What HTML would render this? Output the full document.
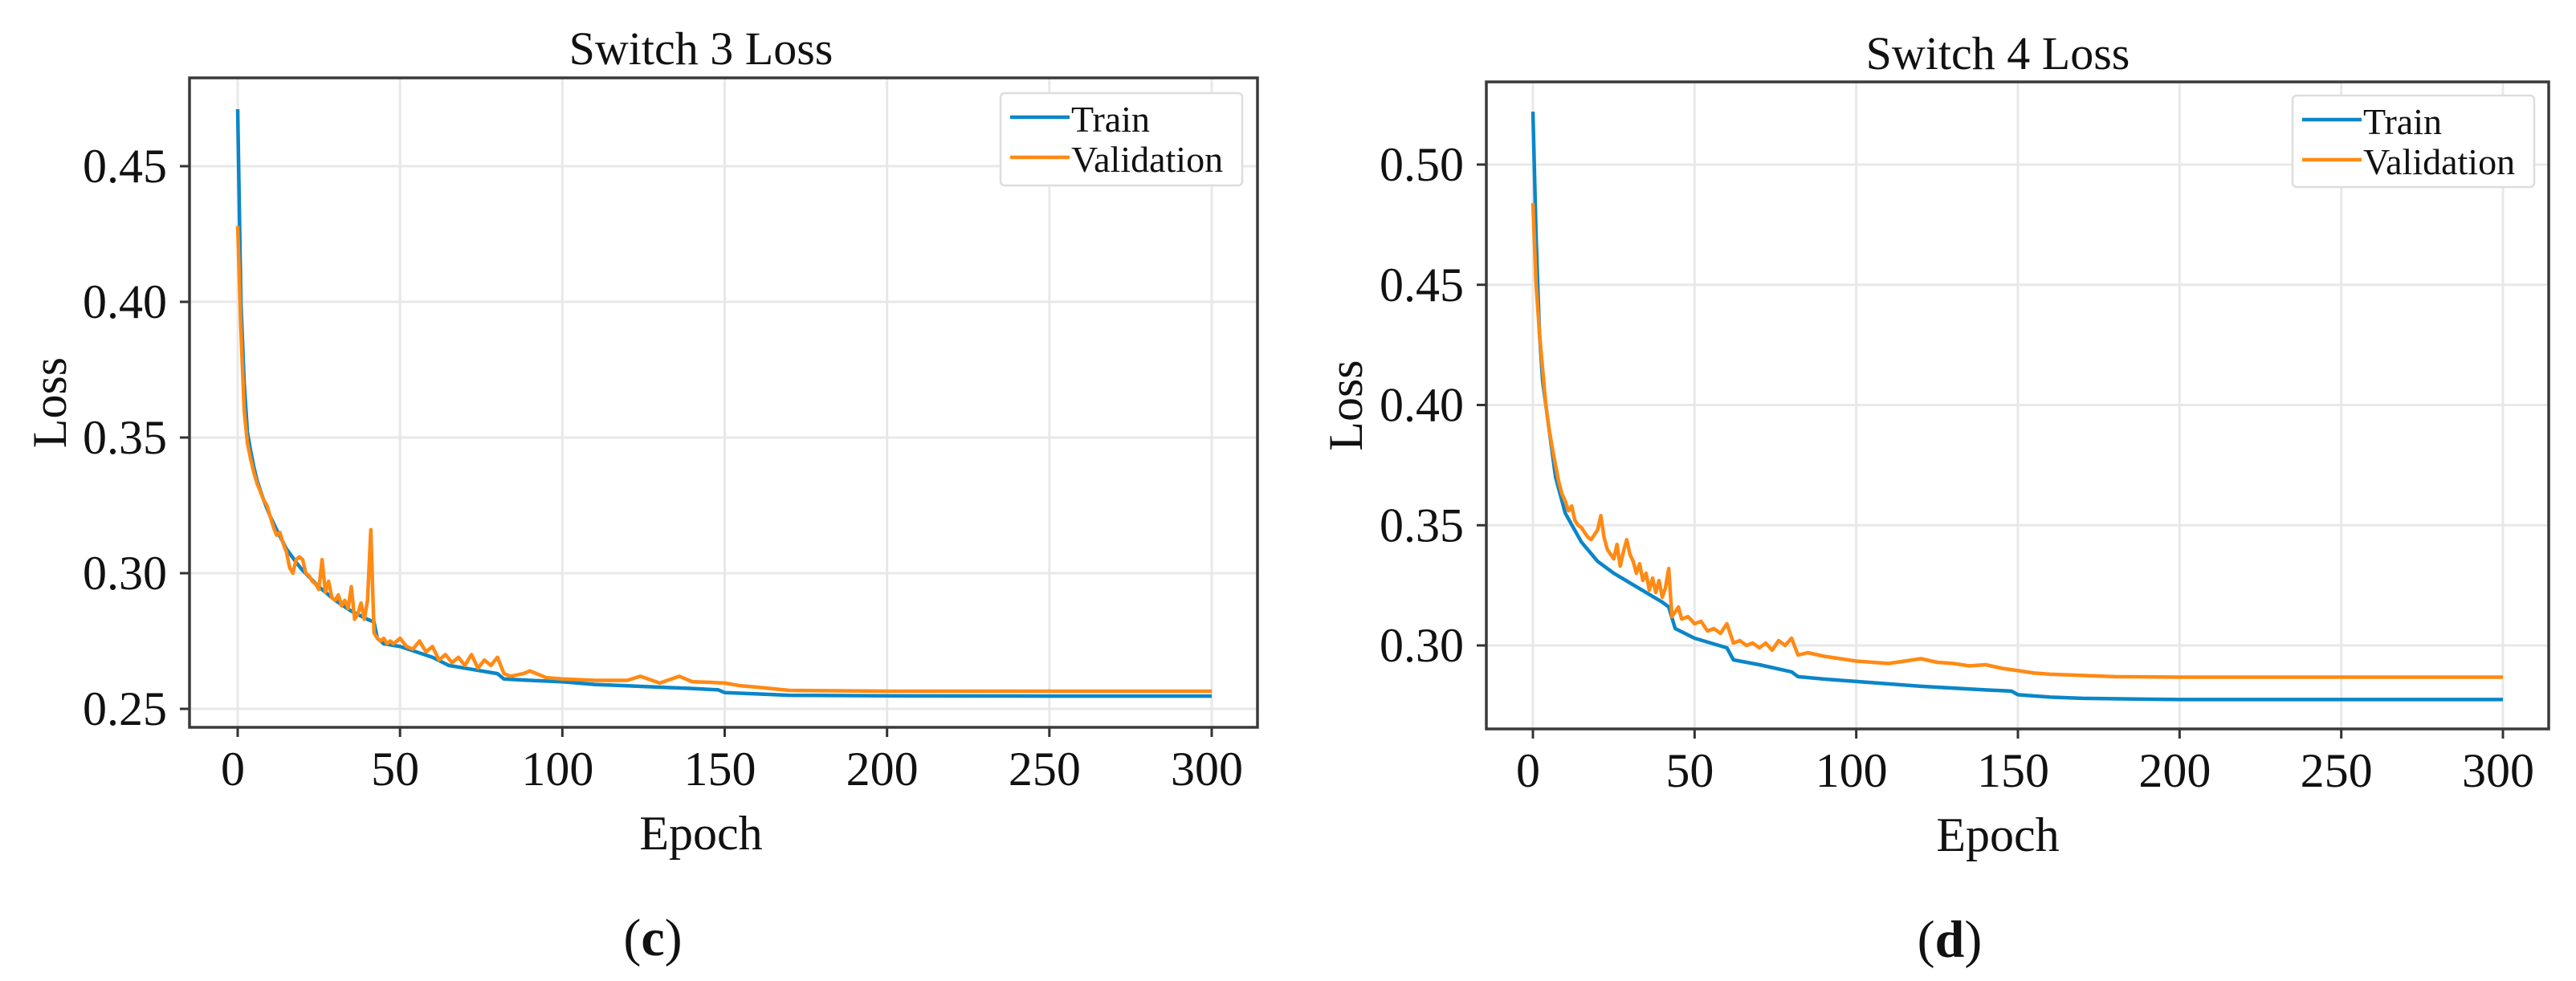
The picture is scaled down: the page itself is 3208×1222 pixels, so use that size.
<!DOCTYPE html>
<html><head><meta charset="utf-8"><style>
body{margin:0;background:#fff;}
svg{display:block;font-family:"Liberation Serif",serif;}
</style></head><body>
<svg id="fig" width="3208" height="1222" viewBox="0 0 3208 1222" xmlns="http://www.w3.org/2000/svg"></svg>
<script>
// ---- Switch 3 data ----
const s3TrainEpochs=[0,1,2,3,4,5,6,8,10,12,15,18,20,25,30,35,40,42,43,45,50,55,60,65,70,80,82,90,100,110,120,130,140,148,150,160,170,200,250,300];
const s3TrainValues=[0.471,0.40,0.37,0.352,0.345,0.339,0.334,0.327,0.321,0.316,0.309,0.304,0.301,0.295,0.290,0.286,0.283,0.282,0.276,0.274,0.273,0.271,0.269,0.266,0.265,0.263,0.261,0.2605,0.260,0.259,0.2585,0.258,0.2575,0.257,0.256,0.2555,0.255,0.2548,0.2547,0.2547];
const s3ValEpochs=[0,1,2,3,4,5,6,7,8,9,10,11,12,13,14,15,16,17,18,19,20,21,22,23,24,25,26,27,28,29,30,31,32,33,34,35,36,37,38,39,40,41,42,43,44,45,46,47,48,50,52,54,56,58,60,62,64,66,68,70,72,74,76,78,80,82,84,88,90,95,100,110,120,124,130,136,140,145,150,155,160,170,200,250,300];
const s3ValValues=[0.428,0.39,0.36,0.348,0.342,0.337,0.333,0.330,0.327,0.325,0.321,0.317,0.314,0.315,0.311,0.308,0.302,0.300,0.305,0.306,0.305,0.300,0.299,0.297,0.296,0.294,0.305,0.293,0.297,0.291,0.290,0.292,0.288,0.290,0.287,0.295,0.283,0.285,0.289,0.283,0.290,0.316,0.278,0.276,0.275,0.276,0.274,0.275,0.274,0.276,0.273,0.272,0.275,0.271,0.273,0.268,0.270,0.267,0.269,0.266,0.270,0.265,0.268,0.266,0.269,0.263,0.262,0.263,0.264,0.2615,0.261,0.2605,0.2605,0.262,0.2595,0.262,0.260,0.2598,0.2595,0.2585,0.258,0.2568,0.2565,0.2565,0.2565];
const s3YTicks=[0.25,0.30,0.35,0.40,0.45];
// ---- Switch 4 data ----
const s4TrainEpochs=[0,1,2,3,5,7,10,15,20,25,30,35,40,42,44,50,55,60,62,70,80,82,90,100,120,140,148,150,160,170,200,250,300];
const s4TrainValues=[0.522,0.47,0.43,0.41,0.39,0.37,0.355,0.343,0.335,0.330,0.326,0.322,0.318,0.316,0.307,0.303,0.301,0.299,0.294,0.292,0.289,0.287,0.286,0.285,0.283,0.2815,0.281,0.2795,0.2785,0.278,0.2775,0.2775,0.2775];
const s4ValEpochs=[0,1,2,3,4,5,6,7,8,9,10,11,12,13,14,15,16,17,18,19,20,21,22,23,24,25,26,27,28,29,30,31,32,33,34,35,36,37,38,39,40,41,42,43,44,45,46,48,50,52,54,56,58,60,62,64,66,68,70,72,74,76,78,80,82,85,90,95,100,105,110,115,120,125,130,135,140,145,150,155,160,170,180,200,250,300];
const s4ValValues=[0.484,0.45,0.43,0.415,0.40,0.39,0.382,0.375,0.368,0.363,0.36,0.356,0.358,0.352,0.350,0.349,0.347,0.345,0.344,0.346,0.348,0.354,0.345,0.340,0.338,0.336,0.342,0.333,0.339,0.344,0.338,0.335,0.330,0.334,0.327,0.330,0.323,0.328,0.322,0.327,0.320,0.324,0.332,0.312,0.314,0.316,0.311,0.312,0.309,0.310,0.306,0.307,0.305,0.309,0.301,0.302,0.300,0.301,0.299,0.301,0.298,0.302,0.300,0.303,0.296,0.297,0.2955,0.2945,0.2935,0.293,0.2925,0.2935,0.2945,0.293,0.2925,0.2915,0.292,0.2905,0.2895,0.2885,0.288,0.2875,0.287,0.2868,0.2868,0.2868];
const s4YTicks=[0.30,0.35,0.40,0.45,0.50];
const xTicks=[0,50,100,150,200,250,300];

const NS="http://www.w3.org/2000/svg";
const fig=document.getElementById('fig');
function el(tag,attrs,parent,text){const e=document.createElementNS(NS,tag);for(const k in attrs)e.setAttribute(k,attrs[k]);if(text!==undefined)e.textContent=text;(parent||fig).appendChild(e);return e;}

function chart(cfg){
  const g=el('g',{});
  
  
  const X=v=>cfg.x0+(v-0)/(300-0)*(cfg.x300-cfg.x0);
  const Y=v=>cfg.yA+(v-cfg.vA)/(cfg.vB-cfg.vA)*(cfg.yB-cfg.yA);
  cfg.yTicks.forEach(t=>{
    const l=el('line',{x1:cfg.L,x2:cfg.R,y1:Y(t),y2:Y(t),stroke:'#e8e8e8','stroke-width':3},g);
    
    const tk=el('line',{x1:cfg.L-12,x2:cfg.L,y1:Y(t),y2:Y(t),stroke:'#333','stroke-width':3},g);
    
    const tx=el('text',{x:cfg.L-28,y:Y(t)+20,'text-anchor':'end','font-size':60,fill:'#111'},g,t.toFixed(2));
    
  });
  xTicks.forEach(t=>{
    const l=el('line',{x1:X(t),x2:X(t),y1:cfg.T,y2:cfg.B,stroke:'#e8e8e8','stroke-width':3},g);
    
    const tk=el('line',{x1:X(t),x2:X(t),y1:cfg.B,y2:cfg.B+12,stroke:'#333','stroke-width':3},g);
    
    const tx=el('text',{x:X(t)-6,y:cfg.B+72,'text-anchor':'middle','font-size':60,fill:'#111'},g,String(t));
    
  });
  const mk=(ep,vals,color,name)=>{
    const d=ep.map((e,i)=>(i?'L':'M')+X(e).toFixed(1)+' '+Y(vals[i]).toFixed(1)).join(' ');
    const p=el('path',{d:d,fill:'none',stroke:color,'stroke-width':4.5,'stroke-linejoin':'round'},g);
    
  };
  mk(cfg.trE,cfg.trV,'#0b86c8','train-line');
  mk(cfg.vaE,cfg.vaV,'#ff8a14','validation-line');
  const frame=el('rect',{x:cfg.L,y:cfg.T,width:cfg.R-cfg.L,height:cfg.B-cfg.T,fill:'none',stroke:'#3a3a3a','stroke-width':3.5},g);
  
  const ti=el('text',{x:cfg.titleX,y:cfg.titleY,'text-anchor':'middle','font-size':58,fill:'#111'},g,cfg.title);
  
  const xl=el('text',{x:cfg.titleX,y:cfg.B+152,'text-anchor':'middle','font-size':60,fill:'#111'},g,'Epoch');
  
  const my=(cfg.T+cfg.B)/2;
  const yl=el('text',{x:cfg.yLabX,y:my,'text-anchor':'middle','font-size':60,fill:'#111',transform:`rotate(-90 ${cfg.yLabX} ${my}) translate(0,20)`},g,'Loss');
  
  const pl=el('text',{x:cfg.titleX-60,y:cfg.panelY,'text-anchor':'middle','font-size':66,fill:'#111'},g);
  
  el('tspan',{},pl,'(');el('tspan',{'font-weight':'bold'},pl,cfg.panel);el('tspan',{},pl,')');
  const lg=el('g',{},g);
  
  el('rect',{x:cfg.lgX,y:cfg.lgY,width:cfg.lgW,height:cfg.lgH,rx:5,fill:'#fff',stroke:'#ddd','stroke-width':2.5},lg);
  const e1=el('g',{},lg);
  el('line',{x1:cfg.lgX+12,x2:cfg.lgX+86,y1:cfg.lgY+30,y2:cfg.lgY+30,stroke:'#0b86c8','stroke-width':4.5},e1);
  el('text',{x:cfg.lgX+88,y:cfg.lgY+48,'font-size':46,fill:'#111'},e1,'Train');
  const e2=el('g',{},lg);
  el('line',{x1:cfg.lgX+12,x2:cfg.lgX+86,y1:cfg.lgY+80,y2:cfg.lgY+80,stroke:'#ff8a14','stroke-width':4.5},e2);
  el('text',{x:cfg.lgX+88,y:cfg.lgY+98,'font-size':46,fill:'#111'},e2,'Validation');
}

chart({name:'switch-3-loss-chart',title:'Switch 3 Loss',panel:'c',L:236,R:1566,T:97,B:906,x0:296,x300:1509,
  yA:883,vA:0.25,yB:207,vB:0.45,yTicks:s3YTicks,trE:s3TrainEpochs,trV:s3TrainValues,vaE:s3ValEpochs,vaV:s3ValValues,
  titleX:873,titleY:80,yLabX:62,panelY:1190,lgX:1246,lgY:116,lgW:301,lgH:115});
chart({name:'switch-4-loss-chart',title:'Switch 4 Loss',panel:'d',L:1851,R:3174,T:102,B:908,x0:1909,x300:3117,
  yA:804,vA:0.30,yB:205,vB:0.50,yTicks:s4YTicks,trE:s4TrainEpochs,trV:s4TrainValues,vaE:s4ValEpochs,vaV:s4ValValues,
  titleX:2488,titleY:86,yLabX:1676,panelY:1192,lgX:2855,lgY:119,lgW:301,lgH:114});
</script>
</body></html>
